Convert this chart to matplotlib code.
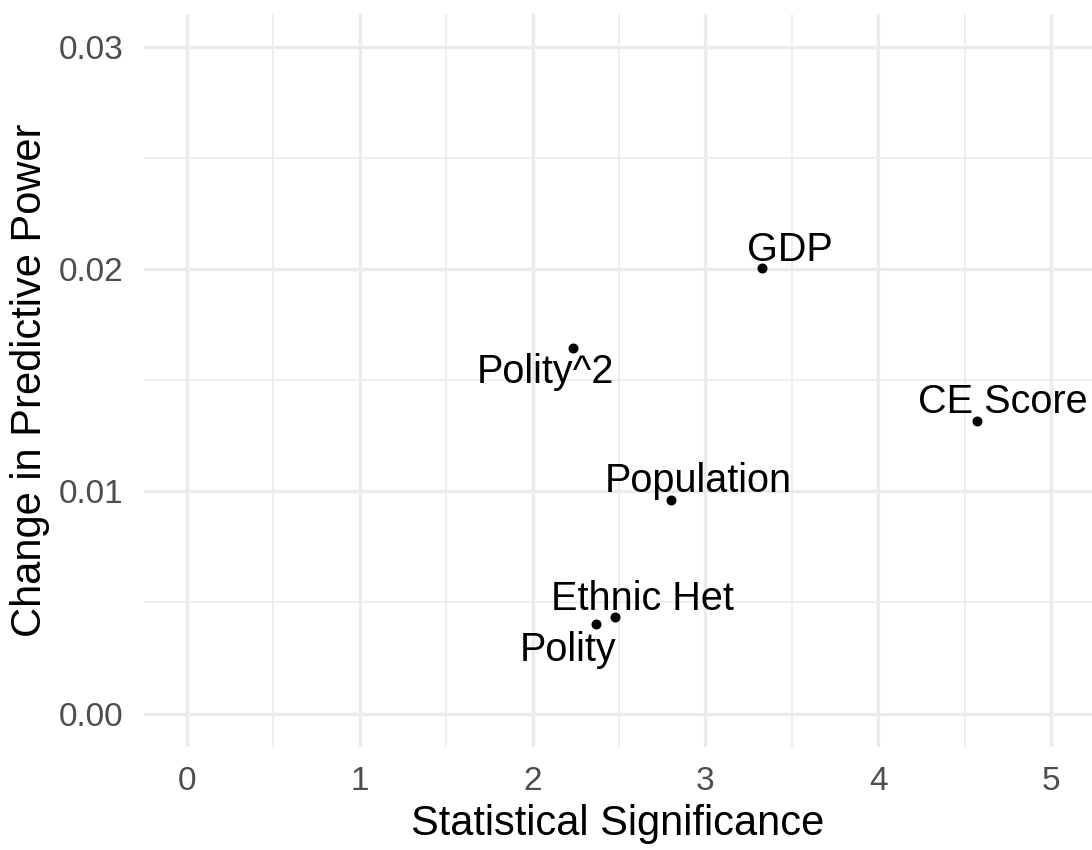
import matplotlib
matplotlib.use("Agg")
import matplotlib.pyplot as plt
from matplotlib.ticker import MultipleLocator

# data
labels = ["GDP", "Polity^2", "CE Score", "Population", "Ethnic Het", "Polity"]
significance = [3.327, 2.236, 4.569, 2.799, 2.477, 2.365]
pred_power = [0.02003, 0.01645, 0.01317, 0.00963, 0.00435, 0.00401]
x_ticks = [0, 1, 2, 3, 4, 5]
y_ticks = [0.00, 0.01, 0.02, 0.03]
y_tick_labels = ["0.00", "0.01", "0.02", "0.03"]

# label placement (offset in points, alignment)
label_offsets = {
    "GDP": (20, 5, "center"),
    "Polity^2": (-20, -25, "center"),
    "CE Score": (19, 5.5, "center"),
    "Population": (20, 5.5, "center"),
    "Ethnic Het": (20, 5, "center"),
    "Polity": (-20, -26, "center"),
}

plt.rcParams["font.family"] = ["Liberation Sans", "DejaVu Sans"]

fig = plt.figure(figsize=(10.92, 8.5), dpi=100)
ax = fig.add_axes([144 / 1092, 1 - 747 / 850, 1 - 144 / 1092, (747 - 14) / 850])

ax.scatter(significance, pred_power, s=52, color="black", zorder=3, linewidths=0)
for name, x, y in zip(labels, significance, pred_power):
    dx, dy, ha = label_offsets[name]
    ax.annotate(name, (x, y), xytext=(dx, dy), textcoords="offset points",
                ha=ha, va="baseline", fontsize=28.5, color="black", zorder=4)

ax.set_xlim(-0.247, 5.236)
ax.set_ylim(-0.0015, 0.03147)
ax.set_xticks(x_ticks)
ax.set_yticks(y_ticks)
ax.set_yticklabels(y_tick_labels)
ax.xaxis.set_minor_locator(MultipleLocator(0.5))
ax.yaxis.set_minor_locator(MultipleLocator(0.005))

ax.grid(which="major", color="#EBEBEB", linewidth=2.4)
ax.grid(which="minor", color="#EBEBEB", linewidth=1.2)
ax.set_axisbelow(True)
for s in ax.spines.values():
    s.set_visible(False)
ax.tick_params(which="both", length=0)
ax.tick_params(axis="y", labelsize=24, labelcolor="#4D4D4D", pad=15)
ax.tick_params(axis="x", labelsize=24, labelcolor="#4D4D4D", pad=13.5)

ax.set_xlabel("Statistical Significance", fontsize=30, labelpad=5)
ax.set_ylabel("Change in Predictive Power", fontsize=30, labelpad=6)

fig.savefig("out.png", dpi=100)
